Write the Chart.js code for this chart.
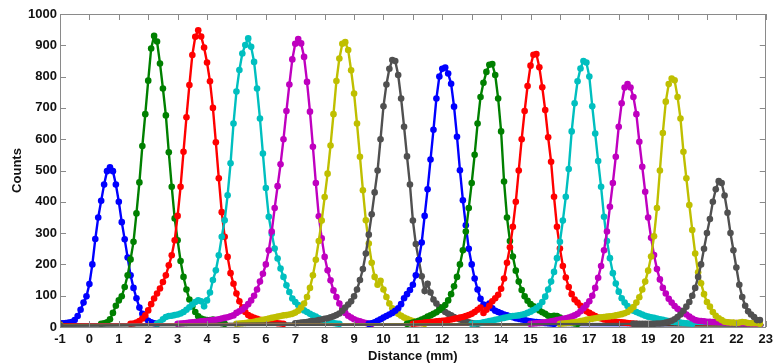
<!DOCTYPE html>
<html>
<head>
<meta charset="utf-8">
<script src="https://cdn.jsdelivr.net/npm/chart.js@4.4.0/dist/chart.umd.min.js"></script>
<style>
  html, body { margin: 0; padding: 0; background: #fff; }
  #wrap { width: 778px; height: 364px; }
</style>
</head>
<body>
<div id="wrap"><canvas id="myChart"></canvas></div>
<script>
// sampling step of the profiles (mm)
var step = 0.1

// first distance of every profile (mm)
var xStart = [-1.0, 0.4, 1.4, 2.3, 3.0, 5.0, 7.0, 9.5, 10.8, 11.0, 13.0, 15.0, 16.0, 18.5]

// counts, one value per step
var peak1 = [12, 12, 13, 14, 16, 22, 35, 55, 78, 98, 137, 200, 281, 350, 403, 455, 498, 510, 498, 455, 400, 335, 280, 222, 165, 125, 92, 62, 42, 28, 20, 15, 12, 10]
var peak2 = [10, 12, 15, 25, 45, 68, 85, 98, 128, 165, 216, 272, 363, 462, 578, 680, 787, 890, 930, 912, 842, 762, 676, 558, 448, 347, 277, 211, 160, 120, 88, 66, 48, 34, 27, 24, 22, 22, 24, 20, 15, 12, 10]
var peak3 = [10, 11, 14, 19, 27, 37, 53, 73, 91, 107, 123, 144, 165, 197, 229, 277, 355, 448, 560, 670, 773, 869, 927, 948, 928, 893, 845, 785, 700, 590, 475, 367, 288, 224, 172, 138, 107, 82, 62, 48, 38, 33, 29, 26, 23, 21, 19, 17, 15, 14, 12, 11, 10]
var peak4 = [10, 15, 25, 32, 35, 36, 38, 40, 43, 48, 55, 63, 72, 80, 85, 82, 66, 85, 110, 150, 181, 229, 288, 341, 421, 523, 650, 752, 821, 874, 901, 922, 895, 847, 762, 666, 554, 444, 352, 298, 251, 219, 187, 160, 133, 112, 91, 80, 70, 60, 53, 48, 42, 37, 33, 28, 24, 20, 17, 15, 13, 11, 10]
var peak5 = [10, 11, 12, 13, 14, 15, 16, 17, 18, 19, 20, 21, 22, 23, 25, 27, 29, 31, 34, 37, 45, 50, 56, 64, 73, 85, 100, 120, 145, 170, 200, 245, 305, 380, 450, 520, 600, 690, 775, 855, 905, 920, 906, 863, 783, 688, 576, 460, 354, 283, 224, 181, 149, 117, 96, 75, 59, 45, 36, 30, 25, 21, 18, 15, 13, 11, 10]
var peak6 = [10, 11, 12, 13, 14, 15, 17, 19, 21, 23, 25, 27, 29, 31, 33, 35, 37, 38, 40, 42, 46, 52, 62, 75, 96, 125, 165, 215, 275, 340, 415, 490, 580, 680, 786, 858, 905, 910, 885, 820, 746, 650, 544, 437, 341, 267, 205, 160, 135, 148, 120, 96, 75, 60, 50, 42, 36, 30, 26, 22, 19, 16, 14, 12, 10]
var peak7 = [12, 13, 14, 15, 16, 18, 19, 20, 22, 24, 26, 28, 31, 34, 38, 43, 52, 62, 72, 82, 98, 120, 150, 185, 235, 295, 360, 430, 500, 600, 705, 775, 825, 853, 850, 805, 730, 640, 545, 455, 340, 265, 215, 162, 115, 138, 110, 88, 75, 64, 55, 48, 42, 37, 32, 28, 24, 21, 18, 15, 13, 11, 10]
var peak8 = [10, 12, 15, 20, 25, 30, 35, 40, 45, 52, 60, 73, 92, 105, 118, 135, 165, 215, 270, 355, 440, 535, 630, 730, 800, 825, 829, 810, 777, 704, 608, 501, 405, 325, 250, 200, 155, 120, 90, 72, 68, 75, 60, 52, 48, 44, 40, 37, 34, 31, 28, 26, 24, 22, 20, 18, 17, 16, 15, 14, 13, 12, 11, 10]
var peak9 = [10, 12, 14, 17, 20, 24, 28, 33, 37, 42, 47, 54, 62, 70, 85, 105, 130, 160, 200, 245, 305, 380, 460, 550, 650, 735, 780, 815, 838, 840, 805, 730, 625, 465, 350, 275, 225, 180, 145, 118, 98, 84, 73, 66, 59, 53, 47, 42, 36, 34, 36, 35, 30, 25, 20, 16, 13, 11, 10]
var peak10 = [10, 11, 12, 13, 14, 15, 16, 17, 18, 19, 20, 21, 22, 24, 26, 28, 30, 32, 35, 38, 42, 48, 55, 62, 45, 55, 68, 82, 92, 103, 122, 155, 205, 255, 320, 400, 500, 600, 690, 770, 835, 870, 872, 830, 766, 693, 606, 528, 416, 320, 251, 195, 158, 128, 105, 88, 78, 68, 58, 50, 45, 40, 35, 30, 27, 24, 22, 20, 18, 17, 16, 15, 14, 13, 12, 11, 10]
var peak11 = [10, 11, 12, 13, 15, 17, 19, 21, 23, 25, 27, 29, 31, 33, 35, 36, 37, 39, 41, 45, 49, 54, 60, 68, 80, 97, 120, 145, 176, 220, 272, 340, 416, 505, 625, 715, 785, 826, 850, 845, 800, 705, 618, 530, 448, 352, 275, 220, 172, 139, 113, 92, 78, 67, 58, 52, 48, 44, 40, 36, 33, 31, 29, 27, 25, 23, 21, 19, 17, 16, 15, 14, 13, 12, 11, 10]
var peak12 = [10, 11, 12, 13, 14, 15, 16, 18, 20, 22, 24, 26, 28, 30, 33, 37, 42, 50, 60, 70, 82, 100, 125, 157, 195, 245, 305, 384, 460, 544, 640, 715, 765, 776, 765, 735, 680, 592, 512, 432, 350, 285, 230, 185, 152, 125, 107, 90, 78, 67, 58, 52, 47, 40, 33, 27, 22, 20, 19, 18, 17, 17, 16, 16, 15, 15, 14, 14, 13, 13, 13, 12, 12, 12, 11, 11, 10, 10]
var peak13 = [10, 11, 12, 13, 14, 15, 17, 19, 21, 23, 25, 26, 28, 29, 31, 32, 33, 34, 35, 37, 39, 41, 44, 48, 55, 64, 78, 95, 120, 145, 180, 225, 290, 380, 500, 620, 720, 776, 794, 788, 735, 666, 560, 475, 390, 310, 235, 175, 140, 105, 80, 65, 48, 36, 28, 22, 17, 15, 14, 14, 13, 14, 16, 15, 13, 12, 12, 12]
var peak14 = [10, 10, 10, 10, 10, 10, 10, 10, 11, 11, 12, 14, 17, 20, 25, 32, 40, 52, 65, 80, 100, 125, 160, 200, 250, 300, 345, 400, 440, 466, 460, 420, 365, 300, 245, 190, 135, 96, 68, 50, 40, 32, 22]

// counts on the flat floor at the two ends of the axis
var floorLeft = [12, 8, 7, 6, 6, 6, 5, 6, 6, 7, 6, 6, 6, 5]
var floorRight = [5, 6, 6, 6, 6, 5, 5, 6, 6, 6, 6, 8, 10, 22]

var peaks = [peak1, peak2, peak3, peak4, peak5, peak6, peak7, peak8, peak9, peak10, peak11, peak12, peak13, peak14]

var cores = ['#0000ff', '#008000', '#ff0000', '#00bfbf', '#bf00bf', '#bfbf00', '#505050']

var xTicks = [-1, 0, 1, 2, 3, 4, 5, 6, 7, 8, 9, 10, 11, 12, 13, 14, 15, 16, 17, 18, 19, 20, 21, 22, 23]
var yTicks = [0, 100, 200, 300, 400, 500, 600, 700, 800, 900, 1000]

function montaSerie(i) {
    var pontos = []
    var valores = peaks[i]
    if (xStart[i] > -1) {
        pontos.push({ x: -1, y: floorLeft[i] })
    }
    for (let k = 0; k < valores.length; k++) {
        pontos.push({ x: Math.round((xStart[i] + k * step) * 10) / 10, y: valores[k] })
    }
    var ultimo = pontos[pontos.length - 1].x
    if (ultimo < 22.8) {
        pontos.push({ x: 22.8, y: floorRight[i] })
    }
    return pontos
}

var datasets = []
for (let i = 0; i < peaks.length; i++) {
    var cor = cores[i % cores.length]
    datasets.push({
        data: montaSerie(i),
        borderColor: cor,
        backgroundColor: cor,
        borderWidth: 2.4,
        pointRadius: 3.3,
        pointBorderWidth: 0,
        pointBackgroundColor: cor,
        tension: 0,
        order: peaks.length - i
    })
}

// matlab style box with ticks pointing inwards
var caixa = {
    id: 'caixa',
    afterDatasetsDraw(chart) {
        var ctx = chart.ctx
        var a = chart.chartArea
        var sx = chart.scales.x
        var sy = chart.scales.y
        ctx.save()
        ctx.strokeStyle = '#8a8a8a'
        ctx.lineWidth = 1
        ctx.beginPath()
        sx.ticks.forEach(function (t) {
            var px = Math.round(sx.getPixelForValue(t.value)) + 0.5
            ctx.moveTo(px, a.bottom)
            ctx.lineTo(px, a.bottom - 6)
            ctx.moveTo(px, a.top)
            ctx.lineTo(px, a.top + 6)
        })
        sy.ticks.forEach(function (t) {
            var py = Math.round(sy.getPixelForValue(t.value)) + 0.5
            ctx.moveTo(a.left, py)
            ctx.lineTo(a.left + 6, py)
            ctx.moveTo(a.right, py)
            ctx.lineTo(a.right - 6, py)
        })
        ctx.stroke()
        ctx.strokeRect(Math.round(a.left) + 0.5, Math.round(a.top) + 0.5, Math.round(a.width) - 1, Math.round(a.height))
        ctx.restore()
    }
}

var fonte = { family: '"Liberation Sans", Arial, Helvetica, sans-serif', size: 13, weight: 'bold' }

var ctx = document.getElementById('myChart').getContext('2d')
var myChart = new Chart(ctx, {
    type: 'line',
    data: { datasets: datasets },
    options: {
        responsive: true,
        maintainAspectRatio: false,
        animation: false,
        layout: { padding: { top: 14, right: 10, left: 0, bottom: 0 } },
        plugins: {
            legend: { display: false },
            tooltip: { enabled: false }
        },
        scales: {
            x: {
                type: 'linear',
                min: -1,
                max: 23,
                afterFit: function (s) { s.height = 37 },
                afterBuildTicks: function (s) { s.ticks = xTicks.map(function (v) { return { value: v } }) },
                grid: { display: false, drawTicks: false },
                border: { display: false },
                ticks: { color: '#111', font: fonte, padding: 5, maxRotation: 0, autoSkip: false, callback: function (v) { return String(v) } },
                title: { display: true, text: 'Distance (mm)', color: '#111', font: fonte, padding: { top: 8, bottom: 0 } }
            },
            y: {
                type: 'linear',
                min: 0,
                max: 1000,
                afterFit: function (s) { s.width = 60 },
                afterBuildTicks: function (s) { s.ticks = yTicks.map(function (v) { return { value: v } }) },
                grid: { display: false, drawTicks: false },
                border: { display: false },
                ticks: { color: '#111', font: fonte, padding: 3, callback: function (v) { return String(v) } },
                title: { display: true, text: 'Counts', color: '#111', font: fonte, padding: { top: 10, bottom: 0 } }
            }
        }
    },
    plugins: [caixa]
})
</script>
</body>
</html>
